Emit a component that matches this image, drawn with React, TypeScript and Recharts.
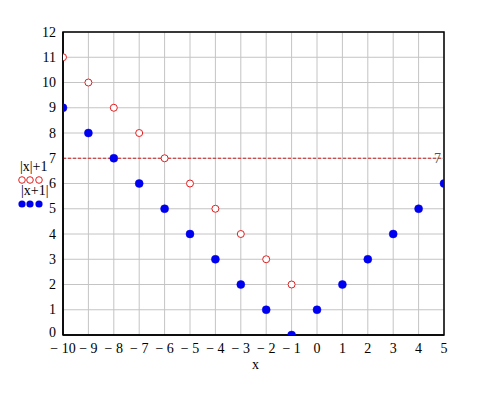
import React from 'react';
import { ComposedChart, Scatter, XAxis, YAxis, CartesianGrid, ReferenceLine, ReferenceArea } from 'recharts';

const xTicks = [-10, -9, -8, -7, -6, -5, -4, -3, -2, -1, 0, 1, 2, 3, 4, 5];
const yTicks = [0, 1, 2, 3, 4, 5, 6, 7, 8, 9, 10, 11, 12];
const redX = [-10, -9, -8, -7, -6, -5, -4, -3, -2, -1];
const redY = [11, 10, 9, 8, 7, 6, 5, 4, 3, 2];
const blueX = [-10, -9, -8, -7, -6, -5, -4, -3, -2, -1, 0, 1, 2, 3, 4, 5];
const blueY = [9, 8, 7, 6, 5, 4, 3, 2, 1, 0, 1, 2, 3, 4, 5, 6];
const refValue = 7;

const redData = redX.map((x, i) => ({ x, y: redY[i] }));
const blueData = blueX.map((x, i) => ({ x, y: blueY[i] }));

const FONT = '"Liberation Serif", "Times New Roman", serif';

const fmtX = (v: number) => (v < 0 ? `\u2212 ${Math.abs(v)}` : `${v}`);

const RedDot = (p: any) => (
  <circle cx={p.cx} cy={p.cy} r={3.5} fill="#ffffff" stroke="#e02020" strokeWidth={1} />
);
const BlueDot = (p: any) => (
  <circle cx={p.cx} cy={p.cy} r={4} fill="#0000f0" stroke="#0000f0" strokeWidth={0.5} />
);

const YTick = (p: any) => {
  const v = p.payload.value;
  const shift = v === 0 ? -3 : 0;
  return (
    <text x={p.x} y={p.y + shift} textAnchor="end" dominantBaseline="central" fill="#000" fontSize={14} fontFamily={FONT}>
      {v}
    </text>
  );
};

export default function App() {
  return (
    <div style={{ position: 'absolute', left: 0, top: 0, width: 497, height: 398, background: '#fff' }}>
      <ComposedChart
        width={497}
        height={398}
        margin={{ top: 32, right: 53, bottom: 0, left: 0 }}
      >
        <CartesianGrid stroke="#c4c4c4" strokeWidth={1} />
        <XAxis
          type="number"
          dataKey="x"
          domain={[-10, 5]}
          ticks={xTicks}
          allowDataOverflow
          interval={0}
          height={63}
          tickLine={false}
          axisLine={{ stroke: '#000', strokeWidth: 1.5 }}
          tickFormatter={fmtX}
          tick={{ fill: '#000', fontSize: 14, fontFamily: FONT }}
          tickMargin={2}
        />
        <YAxis
          type="number"
          dataKey="y"
          domain={[0, 12]}
          ticks={yTicks}
          allowDataOverflow
          interval={0}
          width={63}
          tickLine={false}
          axisLine={{ stroke: '#000', strokeWidth: 1.5 }}
          tick={<YTick />}
          tickMargin={1}
        />
        <ReferenceArea x1={-10} x2={5} y1={0} y2={12} fill="none" stroke="#000" strokeWidth={1.5} fillOpacity={0} />
        <ReferenceLine
          y={refValue}
          stroke="#cc2020"
          strokeDasharray="3 2"
          label={{ value: String(refValue), position: 'insideRight', fill: '#555', fontSize: 14, fontFamily: FONT, offset: 3 }}
        />
        <Scatter data={redData} dataKey="y" shape={RedDot} isAnimationActive={false} />
        <Scatter data={blueData} dataKey="y" shape={BlueDot} isAnimationActive={false} />
      </ComposedChart>
      <div style={{ position: 'absolute', left: 252, top: 357, fontFamily: FONT, fontSize: 14, color: '#000' }}>x</div>
      <svg style={{ position: 'absolute', left: 0, top: 0 }} width={60} height={398}>
        <text x={20} y={171} fontFamily={FONT} fontSize={14} fill="#000">|x|+1</text>
        <circle cx={22} cy={180} r={3.3} fill="#fff" stroke="#e02020" />
        <circle cx={30} cy={180} r={3.3} fill="#fff" stroke="#e02020" />
        <circle cx={39} cy={180} r={3.3} fill="#fff" stroke="#e02020" />
        <text x={21} y={195} fontFamily={FONT} fontSize={14} fill="#000">|x+1|</text>
        <circle cx={22} cy={204} r={3.6} fill="#0000f0" />
        <circle cx={30} cy={204} r={3.6} fill="#0000f0" />
        <circle cx={39} cy={204} r={3.6} fill="#0000f0" />
      </svg>
    </div>
  );
}
